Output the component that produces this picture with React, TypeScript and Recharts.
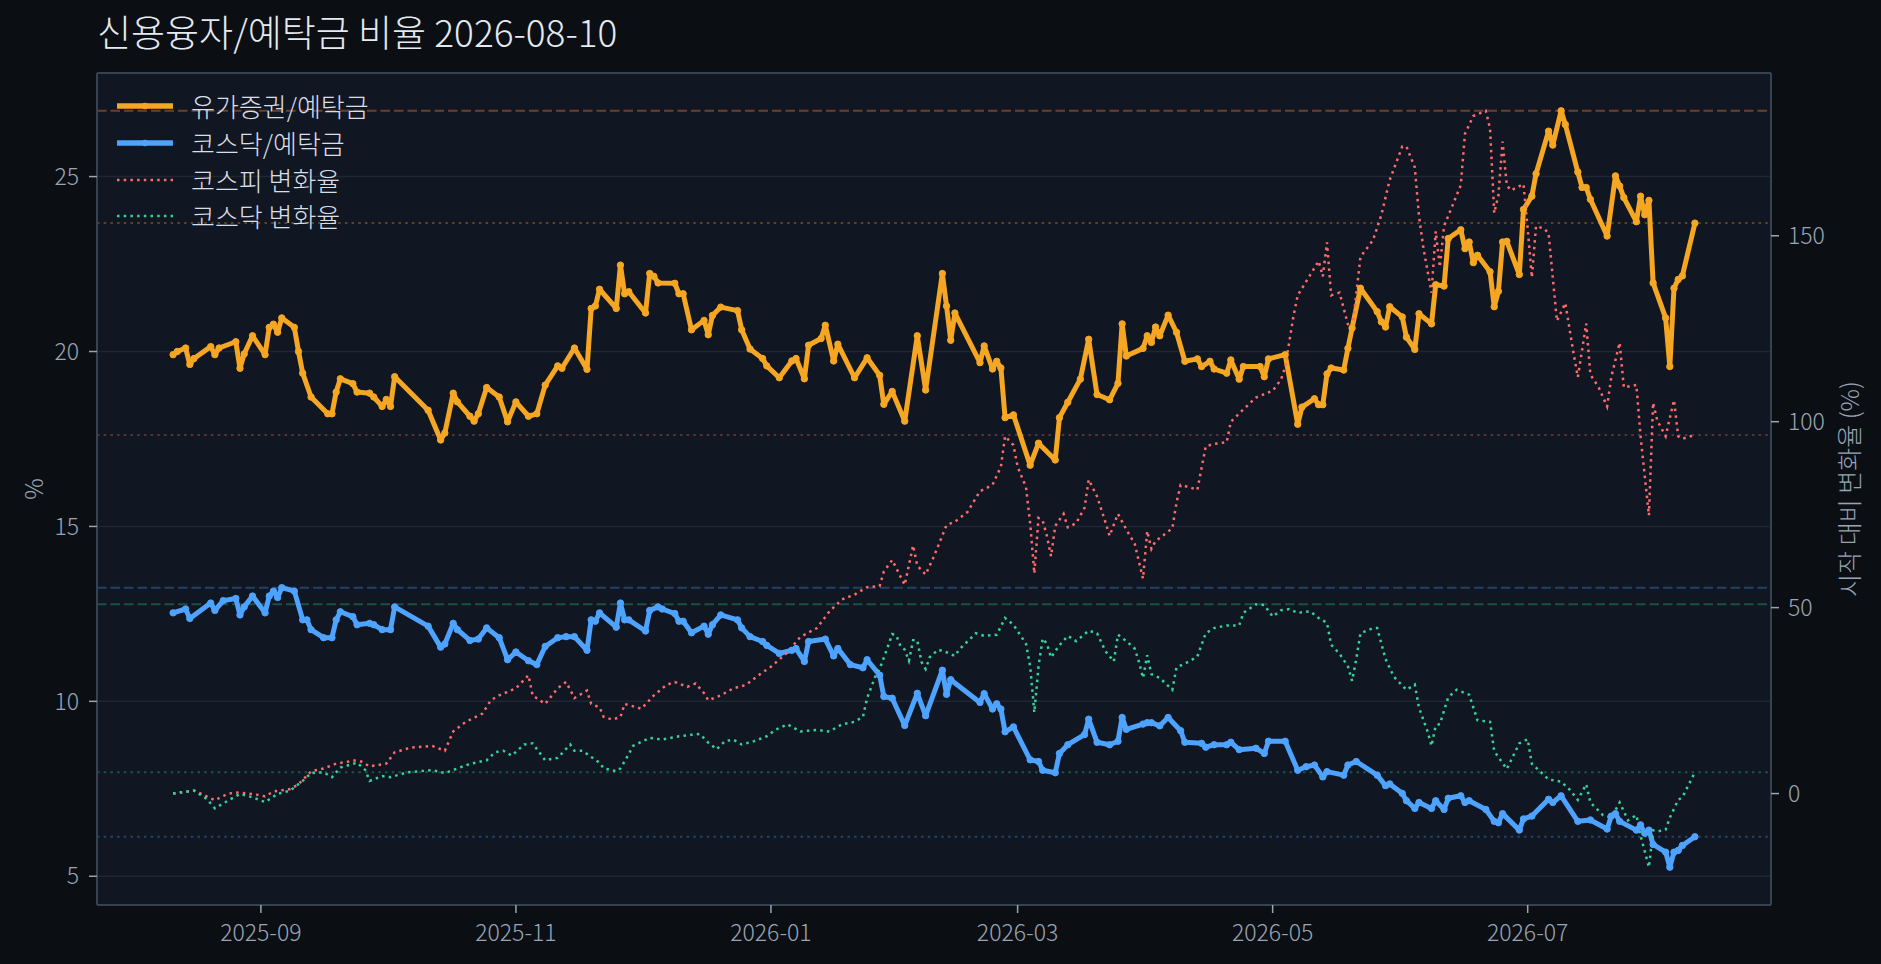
import { LineChart, Line, XAxis, YAxis, CartesianGrid, ReferenceLine, Legend } from "recharts";

const TITLE = "신용융자/예탁금 비율 2026-08-10";
const LEFT_LABEL = "%";
const RIGHT_LABEL = "시작 대비 변화율 (%)";

const xTickDates = ["2025-09-01", "2025-11-01", "2026-01-01", "2026-03-01", "2026-05-01", "2026-07-01"];
const leftTicks = [5, 10, 15, 20, 25];
const rightTicks = [0, 50, 100, 150];

// 유가증권/예탁금 (%)
const kospiRatioDates = [
  "2025-08-11", "2025-08-12", "2025-08-14", "2025-08-15", "2025-08-16", "2025-08-20", "2025-08-21", "2025-08-22", "2025-08-26", "2025-08-27", "2025-08-28", "2025-08-30",
  "2025-09-02", "2025-09-03", "2025-09-04", "2025-09-05", "2025-09-06", "2025-09-09", "2025-09-10", "2025-09-11", "2025-09-13", "2025-09-17", "2025-09-18", "2025-09-19", "2025-09-20", "2025-09-23", "2025-09-24", "2025-09-27", "2025-09-28", "2025-09-30",
  "2025-10-01", "2025-10-02", "2025-10-03", "2025-10-11", "2025-10-14", "2025-10-15", "2025-10-17", "2025-10-18", "2025-10-21", "2025-10-22", "2025-10-23", "2025-10-25", "2025-10-28", "2025-10-30",
  "2025-11-01", "2025-11-04", "2025-11-06", "2025-11-08", "2025-11-11", "2025-11-12", "2025-11-15", "2025-11-18", "2025-11-19", "2025-11-20", "2025-11-21", "2025-11-25", "2025-11-26", "2025-11-27", "2025-11-28",
  "2025-12-02", "2025-12-03", "2025-12-04", "2025-12-05", "2025-12-09", "2025-12-10", "2025-12-11", "2025-12-13", "2025-12-16", "2025-12-17", "2025-12-18", "2025-12-20", "2025-12-24", "2025-12-25", "2025-12-27", "2025-12-30", "2025-12-31",
  "2026-01-03", "2026-01-06", "2026-01-07", "2026-01-09", "2026-01-10", "2026-01-13", "2026-01-14", "2026-01-16", "2026-01-17", "2026-01-21", "2026-01-24", "2026-01-27", "2026-01-28", "2026-01-30",
  "2026-02-02", "2026-02-05", "2026-02-07", "2026-02-11", "2026-02-12", "2026-02-13", "2026-02-14", "2026-02-20", "2026-02-21", "2026-02-23", "2026-02-24", "2026-02-25", "2026-02-26", "2026-02-28",
  "2026-03-04", "2026-03-06", "2026-03-10", "2026-03-11", "2026-03-13", "2026-03-16", "2026-03-18", "2026-03-20", "2026-03-23", "2026-03-25", "2026-03-26", "2026-03-27", "2026-03-31",
  "2026-04-01", "2026-04-02", "2026-04-03", "2026-04-04", "2026-04-06", "2026-04-08", "2026-04-10", "2026-04-13", "2026-04-14", "2026-04-16", "2026-04-17", "2026-04-20", "2026-04-21", "2026-04-23", "2026-04-24", "2026-04-28", "2026-04-29", "2026-04-30",
  "2026-05-04", "2026-05-07", "2026-05-08", "2026-05-11", "2026-05-12", "2026-05-13", "2026-05-14", "2026-05-15", "2026-05-18", "2026-05-19", "2026-05-20", "2026-05-22", "2026-05-26", "2026-05-27", "2026-05-28", "2026-05-29",
  "2026-06-01", "2026-06-02", "2026-06-04", "2026-06-05", "2026-06-08", "2026-06-09", "2026-06-11", "2026-06-12", "2026-06-15", "2026-06-16", "2026-06-17", "2026-06-18", "2026-06-19", "2026-06-22", "2026-06-23", "2026-06-24", "2026-06-25", "2026-06-26", "2026-06-29", "2026-06-30",
  "2026-07-02", "2026-07-03", "2026-07-06", "2026-07-07", "2026-07-09", "2026-07-10", "2026-07-13", "2026-07-14", "2026-07-15", "2026-07-16", "2026-07-20", "2026-07-22", "2026-07-23", "2026-07-24", "2026-07-27", "2026-07-28", "2026-07-29", "2026-07-30", "2026-07-31",
  "2026-08-03", "2026-08-04", "2026-08-05", "2026-08-06", "2026-08-07", "2026-08-10",
];
const kospiRatioValues = [
  19.91, 20.0, 20.1, 19.63, 19.8, 20.14, 19.91, 20.1, 20.28, 19.52, 19.93, 20.45,
  19.91, 20.69, 20.78, 20.55, 20.96, 20.69, 20.0, 19.38, 18.7, 18.22, 18.22, 18.84, 19.22, 19.08, 18.84, 18.81, 18.7, 18.43,
  18.63, 18.43, 19.28, 18.32, 17.47, 17.67, 18.81, 18.56, 18.15, 18.01, 18.22, 18.97, 18.7, 17.99,
  18.56, 18.15, 18.22, 19.04, 19.59, 19.52, 20.1, 19.49, 21.23, 21.3, 21.78, 21.23, 22.47, 21.65, 21.71,
  21.1, 22.23, 22.15, 21.96, 21.95, 21.65, 21.65, 20.62, 20.89, 20.48, 21.03, 21.27, 21.17, 20.62, 20.07, 19.8, 19.59,
  19.25, 19.73, 19.8, 19.22, 20.18, 20.37, 20.75, 19.73, 20.21, 19.25, 19.82, 19.32, 18.49, 18.86,
  18.01, 20.45, 18.9, 22.23, 21.3, 20.32, 21.1, 19.68, 20.16, 19.5, 19.72, 19.53, 18.11, 18.19,
  16.75, 17.38, 16.9, 18.11, 18.55, 19.21, 20.35, 18.77, 18.62, 19.09, 20.79, 19.87, 20.09,
  20.45, 20.26, 20.7, 20.45, 21.04, 20.55, 19.72, 19.79, 19.57, 19.72, 19.5, 19.38, 19.76, 19.21, 19.57, 19.57, 19.28, 19.79,
  19.91, 17.92, 18.41, 18.65, 18.48, 18.48, 19.36, 19.53, 19.47, 20.09, 20.67, 21.81, 21.14, 20.85, 20.7, 21.28,
  20.99, 20.41, 20.06, 21.08, 20.79, 21.91, 21.87, 23.23, 23.48, 22.94, 23.13, 22.54, 22.75, 22.28, 21.28, 21.72, 23.13, 23.15, 22.2, 24.06,
  24.44, 25.08, 26.3, 25.9, 26.88, 26.49, 25.13, 24.69, 24.69, 24.35, 23.3, 25.02, 24.73, 24.4, 23.71, 24.44, 23.91, 24.32, 21.96,
  20.96, 19.57, 21.81, 22.06, 22.16, 23.67,
];

// 코스닥/예탁금 (%)
const kosdaqRatioDates = [
  "2025-08-11", "2025-08-14", "2025-08-15", "2025-08-20", "2025-08-21", "2025-08-23", "2025-08-26", "2025-08-27", "2025-08-28", "2025-08-30",
  "2025-09-02", "2025-09-03", "2025-09-04", "2025-09-05", "2025-09-06", "2025-09-09", "2025-09-11", "2025-09-12", "2025-09-13", "2025-09-16", "2025-09-18", "2025-09-19", "2025-09-20", "2025-09-23", "2025-09-24", "2025-09-27", "2025-09-28", "2025-09-30",
  "2025-10-02", "2025-10-03", "2025-10-11", "2025-10-14", "2025-10-15", "2025-10-17", "2025-10-18", "2025-10-21", "2025-10-23", "2025-10-25", "2025-10-28", "2025-10-30",
  "2025-11-01", "2025-11-04", "2025-11-06", "2025-11-08", "2025-11-11", "2025-11-13", "2025-11-15", "2025-11-18", "2025-11-19", "2025-11-20", "2025-11-21", "2025-11-25", "2025-11-26", "2025-11-27", "2025-11-28",
  "2025-12-02", "2025-12-03", "2025-12-05", "2025-12-06", "2025-12-09", "2025-12-10", "2025-12-11", "2025-12-13", "2025-12-16", "2025-12-17", "2025-12-18", "2025-12-20", "2025-12-24", "2025-12-25", "2025-12-27", "2025-12-30", "2025-12-31",
  "2026-01-03", "2026-01-06", "2026-01-07", "2026-01-09", "2026-01-10", "2026-01-14", "2026-01-16", "2026-01-17", "2026-01-20", "2026-01-23", "2026-01-24", "2026-01-27", "2026-01-28", "2026-01-30",
  "2026-02-02", "2026-02-05", "2026-02-07", "2026-02-11", "2026-02-12", "2026-02-13", "2026-02-20", "2026-02-21", "2026-02-23", "2026-02-24", "2026-02-25", "2026-02-26", "2026-02-28",
  "2026-03-04", "2026-03-06", "2026-03-07", "2026-03-10", "2026-03-11", "2026-03-13", "2026-03-17", "2026-03-18", "2026-03-20", "2026-03-23", "2026-03-25", "2026-03-26", "2026-03-27", "2026-03-31",
  "2026-04-01", "2026-04-02", "2026-04-04", "2026-04-06", "2026-04-09", "2026-04-10", "2026-04-14", "2026-04-15", "2026-04-17", "2026-04-20", "2026-04-21", "2026-04-23", "2026-04-27", "2026-04-29", "2026-04-30",
  "2026-05-04", "2026-05-07", "2026-05-09", "2026-05-11", "2026-05-13", "2026-05-14", "2026-05-18", "2026-05-19", "2026-05-21", "2026-05-26", "2026-05-28", "2026-05-29",
  "2026-06-01", "2026-06-02", "2026-06-04", "2026-06-05", "2026-06-08", "2026-06-09", "2026-06-11", "2026-06-12", "2026-06-15", "2026-06-16", "2026-06-17", "2026-06-21", "2026-06-23", "2026-06-24", "2026-06-25", "2026-06-29", "2026-06-30",
  "2026-07-02", "2026-07-06", "2026-07-07", "2026-07-09", "2026-07-13", "2026-07-16", "2026-07-20", "2026-07-21", "2026-07-22", "2026-07-23", "2026-07-27", "2026-07-28", "2026-07-29", "2026-07-30", "2026-07-31",
  "2026-08-03", "2026-08-04", "2026-08-05", "2026-08-06", "2026-08-07", "2026-08-10",
];
const kosdaqRatioValues = [
  12.53, 12.64, 12.37, 12.81, 12.6, 12.88, 12.94, 12.47, 12.7, 13.01,
  12.53, 13.01, 13.15, 12.97, 13.25, 13.15, 12.33, 12.33, 12.05, 11.82, 11.82, 12.33, 12.56, 12.42, 12.19, 12.23, 12.19, 12.05,
  12.05, 12.7, 12.15, 11.55, 11.64, 12.23, 12.05, 11.74, 11.78, 12.1, 11.82, 11.19,
  11.41, 11.16, 11.05, 11.57, 11.82, 11.85, 11.85, 11.46, 12.33, 12.29, 12.53, 12.12, 12.81, 12.33, 12.33,
  12.01, 12.6, 12.7, 12.64, 12.51, 12.29, 12.29, 11.96, 12.15, 11.92, 12.19, 12.47, 12.33, 12.1, 11.85, 11.71, 11.6,
  11.37, 11.46, 11.51, 11.14, 11.71, 11.78, 11.3, 11.51, 11.05, 10.96, 11.19, 10.75, 10.14, 10.09,
  9.31, 10.23, 9.59, 10.89, 10.2, 10.62, 9.97, 10.22, 9.78, 9.93, 9.78, 9.13, 9.27,
  8.33, 8.28, 8.03, 7.96, 8.51, 8.76, 9.05, 9.49, 8.83, 8.76, 8.86, 9.54, 9.2, 9.35,
  9.39, 9.39, 9.3, 9.54, 9.16, 8.83, 8.8, 8.69, 8.76, 8.76, 8.83, 8.62, 8.66, 8.51, 8.86,
  8.86, 8.03, 8.13, 8.18, 7.84, 7.99, 7.89, 8.18, 8.28, 7.89, 7.59, 7.64,
  7.37, 7.16, 6.94, 7.11, 6.94, 7.16, 6.91, 7.23, 7.3, 7.11, 7.16, 6.91, 6.57, 6.53, 6.79, 6.32, 6.64,
  6.72, 7.2, 7.11, 7.3, 6.57, 6.61, 6.35, 6.72, 6.79, 6.57, 6.32, 6.47, 6.23, 6.32, 5.91,
  5.69, 5.26, 5.69, 5.74, 5.88, 6.13,
];

// 코스피 변화율 (%)
const kospiChangeDates = [
  "2025-08-11", "2025-08-16", "2025-08-19", "2025-08-21", "2025-08-24", "2025-08-26", "2025-08-30",
  "2025-09-02", "2025-09-04", "2025-09-08", "2025-09-10", "2025-09-13", "2025-09-16", "2025-09-19", "2025-09-22", "2025-09-23", "2025-09-25", "2025-09-27",
  "2025-10-01", "2025-10-03", "2025-10-07", "2025-10-12", "2025-10-15", "2025-10-17", "2025-10-20", "2025-10-24", "2025-10-26", "2025-10-28",
  "2025-11-01", "2025-11-04", "2025-11-05", "2025-11-08", "2025-11-11", "2025-11-13", "2025-11-15", "2025-11-18", "2025-11-19", "2025-11-21", "2025-11-22", "2025-11-24", "2025-11-26", "2025-11-27", "2025-11-28",
  "2025-12-01", "2025-12-04", "2025-12-07", "2025-12-09", "2025-12-12", "2025-12-14", "2025-12-16", "2025-12-17", "2025-12-20", "2025-12-23", "2025-12-26", "2025-12-29",
  "2026-01-01", "2026-01-05", "2026-01-08", "2026-01-12", "2026-01-15", "2026-01-18", "2026-01-21", "2026-01-24", "2026-01-27", "2026-01-28", "2026-01-30",
  "2026-02-02", "2026-02-04", "2026-02-05", "2026-02-07", "2026-02-09", "2026-02-12", "2026-02-14", "2026-02-17", "2026-02-20", "2026-02-23", "2026-02-25", "2026-02-26", "2026-02-28",
  "2026-03-01", "2026-03-03", "2026-03-04", "2026-03-05", "2026-03-06", "2026-03-07", "2026-03-08", "2026-03-09", "2026-03-10", "2026-03-12", "2026-03-13", "2026-03-15", "2026-03-17", "2026-03-18", "2026-03-20", "2026-03-22", "2026-03-23", "2026-03-25", "2026-03-27", "2026-03-29", "2026-03-30", "2026-03-31",
  "2026-04-01", "2026-04-02", "2026-04-03", "2026-04-07", "2026-04-08", "2026-04-09", "2026-04-11", "2026-04-13", "2026-04-15", "2026-04-17", "2026-04-20", "2026-04-21", "2026-04-24", "2026-04-27",
  "2026-05-01", "2026-05-03", "2026-05-04", "2026-05-06", "2026-05-07", "2026-05-10", "2026-05-12", "2026-05-13", "2026-05-14", "2026-05-15", "2026-05-17", "2026-05-19", "2026-05-20", "2026-05-22", "2026-05-25", "2026-05-27", "2026-05-29",
  "2026-06-01", "2026-06-02", "2026-06-04", "2026-06-05", "2026-06-06", "2026-06-08", "2026-06-09", "2026-06-10", "2026-06-11", "2026-06-13", "2026-06-15", "2026-06-16", "2026-06-18", "2026-06-21", "2026-06-22", "2026-06-23", "2026-06-24", "2026-06-25", "2026-06-26", "2026-06-27", "2026-06-30",
  "2026-07-01", "2026-07-02", "2026-07-03", "2026-07-05", "2026-07-06", "2026-07-08", "2026-07-10", "2026-07-12", "2026-07-13", "2026-07-15", "2026-07-16", "2026-07-18", "2026-07-20", "2026-07-21", "2026-07-23", "2026-07-24", "2026-07-27", "2026-07-28", "2026-07-30", "2026-07-31",
  "2026-08-01", "2026-08-03", "2026-08-05", "2026-08-06", "2026-08-07", "2026-08-09", "2026-08-10",
];
const kospiChangeValues = [
  0, 0.8, -0.75, -1.8, -0.1, 0.3, -0.1,
  -0.75, 0.55, 1.2, 2.5, 5.97, 6.75, 8.04, 8.6, 8.95, 8.6, 7.3,
  8.04, 11.1, 12.4, 12.8, 11.5, 16.7, 19.3, 21.5, 25.1, 26.4,
  28.3, 31.8, 26.4, 24.1, 28.3, 30.0, 25.7, 27.7, 24.1, 23.2, 20.6, 19.9, 20.6, 24.1, 23.8,
  22.8, 26.4, 29.2, 30.0, 28.7, 29.6, 27.0, 25.1, 26.4, 28.3, 29.2, 31.8,
  34.1, 38.0, 42.1, 44.5, 49.0, 52.2, 53.5, 55.5, 55.8, 59.7, 62.8,
  56.1, 66.7, 61.3, 58.9, 63.8, 72.2, 73.1, 75.7, 81.3, 83.0, 87.9, 96.1, 93.7,
  87.9, 82.4, 72.7, 59.2, 74.1, 73.4, 69.3, 63.8, 72.0, 75.2, 71.6, 72.7, 76.8, 84.4, 79.9, 73.0, 69.3, 75.2, 71.0, 67.2, 62.4, 57.8,
  70.6, 65.8, 67.9, 71.3, 78.2, 83.0, 82.4, 81.7, 93.4, 94.0, 94.5, 100.0, 103.3, 106.5,
  108.3, 111.3, 114.7, 128.5, 134.0, 139.5, 143.2, 139.1, 148.2, 134.0, 134.7, 126.2, 124.4, 144.3, 148.8, 155.6, 165.0,
  174.0, 174.0, 168.4, 155.4, 147.1, 134.7, 151.2, 141.6, 152.6, 158.1, 163.6, 177.4, 182.2, 183.6, 178.8, 156.1, 160.9, 175.3, 163.6, 162.2, 163.9,
  151.9, 138.8, 152.6, 151.9, 150.6, 127.1, 131.9, 118.2, 112.0, 126.4, 112.7, 109.2, 104.1, 112.0, 121.2, 109.2, 109.9, 96.1, 74.8, 105.1,
  100.3, 96.1, 105.8, 96.1, 95.4, 96.1, 96.4,
];

// 코스닥 변화율 (%)
const kosdaqChangeDates = [
  "2025-08-11", "2025-08-16", "2025-08-19", "2025-08-21", "2025-08-24", "2025-08-27", "2025-08-30",
  "2025-09-02", "2025-09-05", "2025-09-08", "2025-09-11", "2025-09-13", "2025-09-16", "2025-09-18", "2025-09-20", "2025-09-24", "2025-09-26", "2025-09-27", "2025-09-30",
  "2025-10-02", "2025-10-06", "2025-10-12", "2025-10-15", "2025-10-18", "2025-10-21", "2025-10-25", "2025-10-27", "2025-10-29", "2025-10-31",
  "2025-11-03", "2025-11-05", "2025-11-08", "2025-11-11", "2025-11-14", "2025-11-15", "2025-11-17", "2025-11-19", "2025-11-21", "2025-11-22", "2025-11-25", "2025-11-26", "2025-11-28", "2025-11-29",
  "2025-12-03", "2025-12-06", "2025-12-10", "2025-12-13", "2025-12-15", "2025-12-17", "2025-12-19", "2025-12-21", "2025-12-23", "2025-12-25", "2025-12-28", "2025-12-31",
  "2026-01-02", "2026-01-05", "2026-01-08", "2026-01-12", "2026-01-15", "2026-01-18", "2026-01-21", "2026-01-23", "2026-01-24", "2026-01-26", "2026-01-27", "2026-01-29", "2026-01-30", "2026-01-31",
  "2026-02-01", "2026-02-02", "2026-02-03", "2026-02-04", "2026-02-05", "2026-02-06", "2026-02-07", "2026-02-08", "2026-02-10", "2026-02-12", "2026-02-14", "2026-02-15", "2026-02-19", "2026-02-21", "2026-02-24", "2026-02-26", "2026-02-28",
  "2026-03-03", "2026-03-04", "2026-03-05", "2026-03-06", "2026-03-07", "2026-03-08", "2026-03-09", "2026-03-11", "2026-03-13", "2026-03-15", "2026-03-18", "2026-03-20", "2026-03-22", "2026-03-24", "2026-03-25", "2026-03-27", "2026-03-29", "2026-03-30", "2026-03-31",
  "2026-04-01", "2026-04-02", "2026-04-04", "2026-04-07", "2026-04-08", "2026-04-11", "2026-04-13", "2026-04-15", "2026-04-17", "2026-04-20", "2026-04-23", "2026-04-24", "2026-04-27", "2026-04-29",
  "2026-05-01", "2026-05-03", "2026-05-05", "2026-05-07", "2026-05-10", "2026-05-12", "2026-05-14", "2026-05-15", "2026-05-17", "2026-05-19", "2026-05-20", "2026-05-21", "2026-05-22", "2026-05-25", "2026-05-26", "2026-05-28", "2026-05-30",
  "2026-06-02", "2026-06-04", "2026-06-05", "2026-06-07", "2026-06-08", "2026-06-09", "2026-06-10", "2026-06-12", "2026-06-14", "2026-06-17", "2026-06-19", "2026-06-22", "2026-06-23", "2026-06-26", "2026-06-29",
  "2026-07-01", "2026-07-02", "2026-07-06", "2026-07-09", "2026-07-11", "2026-07-13", "2026-07-15", "2026-07-16", "2026-07-19", "2026-07-21", "2026-07-23", "2026-07-25", "2026-07-27", "2026-07-28", "2026-07-30", "2026-07-31",
  "2026-08-01", "2026-08-03", "2026-08-04", "2026-08-06", "2026-08-07", "2026-08-10",
];
const kosdaqChangeValues = [
  0, 0.8, -1.4, -3.97, -2.0, -0.1, -1.0,
  -2.3, -0.1, 0.8, 3.4, 5.5, 5.7, 4.4, 7.0, 8.3, 6.3, 3.4, 4.7,
  4.4, 5.7, 6.3, 5.5, 6.75, 8.0, 8.95, 11.1, 11.5, 10.2,
  13.2, 13.5, 8.95, 9.6, 13.2, 11.5, 11.5, 9.85, 8.3, 6.75, 6.0, 6.75, 10.6, 12.8,
  15.0, 14.5, 15.4, 15.8, 16.0, 13.7, 11.9, 14.1, 14.5, 13.2, 14.1, 15.4,
  17.1, 18.6, 16.7, 17.1, 16.7, 18.6, 19.3, 20.6, 25.7, 31.6, 33.5, 39.6, 42.9, 42.5,
  39.6, 38.7, 35.7, 41.2, 41.2, 35.4, 33.5, 36.7, 38.7, 38.0, 37.0, 38.7, 43.1, 42.4, 42.7, 47.2, 45.4,
  40.3, 34.2, 21.8, 34.2, 41.7, 40.3, 36.6, 39.9, 42.4, 41.0, 43.8, 43.1, 38.3, 35.5, 42.7, 41.0, 39.0, 35.5, 31.1,
  37.2, 32.1, 31.1, 27.9, 33.9, 35.5, 36.9, 43.1, 44.5, 45.2, 45.2, 48.6, 50.9, 50.7,
  47.6, 49.3, 49.6, 48.6, 49.0, 47.2, 45.9, 40.0, 37.6, 34.2, 30.3, 36.2, 43.1, 44.5, 44.5, 36.2, 31.4,
  27.9, 29.3, 23.1, 16.9, 12.8, 18.3, 18.7, 25.9, 27.9, 26.6, 19.7, 19.3, 11.4, 6.6, 13.5,
  14.6, 8.0, 3.8, 3.2, 1.1, -1.7, 2.5, -2.4, -5.8, -6.5, -2.4, -7.2, -5.8, -11.3, -19.8, -9.9,
  -10.2, -9.7, -6.5, -1.7, -1.0, 5.7,
];

const ORANGE = "#F5A623";
const BLUE = "#4DA3FF";
const RED = "#FF6B6B";
const GREEN = "#34D399";
const PAGE_BG = "#0B0F14";
const PLOT_BG = "#111722";
const GRID = "#1E2633";
const SPINE = "#364152";
const TICK = "#9AA5B4";
const FONT = "'Noto Sans CJK KR', 'Noto Sans', sans-serif";
const DOTS = "2.5 4.2";

const toPoints = (dates: string[], values: number[]) =>
  dates.map((d, i) => ({ t: Date.parse(d), v: values[i] }));

const padded = (vals: number[]): [number, number] => {
  const lo = Math.min(...vals);
  const hi = Math.max(...vals);
  const m = (hi - lo) * 0.05;
  return [lo - m, hi + m];
};

const series = [
  { name: "유가증권/예탁금", color: ORANGE, axis: "left", dotted: false, maxAlpha: 0.24, data: toPoints(kospiRatioDates, kospiRatioValues) },
  { name: "코스닥/예탁금", color: BLUE, axis: "left", dotted: false, maxAlpha: 0.3, data: toPoints(kosdaqRatioDates, kosdaqRatioValues) },
  { name: "코스피 변화율", color: RED, axis: "right", dotted: true, maxAlpha: 0.18, data: toPoints(kospiChangeDates, kospiChangeValues) },
  { name: "코스닥 변화율", color: GREEN, axis: "right", dotted: true, maxAlpha: 0.3, data: toPoints(kosdaqChangeDates, kosdaqChangeValues) },
];

const allTimes = series.flatMap((s) => s.data.map((p) => p.t));
const xDomain = padded(allTimes);
const leftDomain = padded([...kospiRatioValues, ...kosdaqRatioValues]);
const rightDomain = padded([...kospiChangeValues, ...kosdaqChangeValues]);
const xTicks = xTickDates.map((d) => Date.parse(d));
const fmtMonth = (t: number) => new Date(t).toISOString().slice(0, 7);

// horizontal segment drawn left to right, so dash patterns line up on both axes
const hSeg = (y: number) => [
  { x: xDomain[0], y },
  { x: xDomain[1], y },
];

const tickStyle = { fill: TICK, fontSize: 23, fontFamily: FONT, fontWeight: 300 };

const LegendBox = () => (
  <div style={{ fontFamily: FONT }}>
    {series.map((s) => (
      <div key={s.name} style={{ display: "flex", alignItems: "center", height: 36.7 }}>
        <svg width={56} height={14} style={{ display: "block" }}>
          {s.dotted ? (
            <line x1={0} y1={7} x2={56} y2={7} stroke={s.color} strokeWidth={2.5} strokeDasharray={DOTS} />
          ) : (
            <g>
              <line x1={0} y1={7} x2={56} y2={7} stroke={s.color} strokeWidth={5.5} />
              <circle cx={28} cy={7} r={3.2} fill={s.color} />
            </g>
          )}
        </svg>
        <span style={{ marginLeft: 18, color: "#D9DFE7", fontSize: 26, fontWeight: 300, lineHeight: "36px" }}>{s.name}</span>
      </div>
    ))}
  </div>
);

export default function App() {
  return (
    <div style={{ position: "absolute", left: 0, top: 0, width: 1881, height: 964, background: PAGE_BG, fontFamily: FONT, overflow: "hidden" }}>
      <div style={{ position: "absolute", left: 97, top: 13, color: "#E5E9F0", fontSize: 37, fontWeight: 300, lineHeight: "37px", whiteSpace: "nowrap" }}>
        {TITLE}
      </div>
      <div style={{ position: "absolute", left: 32, top: 489, color: TICK, fontSize: 24, fontWeight: 300, transform: "translate(-50%, -50%) rotate(-90deg)", whiteSpace: "nowrap" }}>
        {LEFT_LABEL}
      </div>
      <div style={{ position: "absolute", left: 1848, top: 489, color: TICK, fontSize: 25, fontWeight: 300, transform: "translate(-50%, -50%) rotate(-90deg)", whiteSpace: "nowrap" }}>
        {RIGHT_LABEL}
      </div>
      <LineChart width={1881} height={964} margin={{ top: 73, right: 0, bottom: 0, left: 0 }}>
        <CartesianGrid yAxisId="left" vertical={false} stroke={GRID} strokeWidth={1.5} fill={PLOT_BG} fillOpacity={1} />
        <XAxis
          dataKey="t"
          type="number"
          domain={xDomain}
          ticks={xTicks}
          tickFormatter={fmtMonth}
          allowDataOverflow
          height={59}
          tickSize={8}
          tickMargin={12}
          tick={tickStyle}
          tickLine={{ stroke: TICK, strokeWidth: 1.5 }}
          axisLine={{ stroke: SPINE, strokeWidth: 2 }}
        />
        <YAxis
          yAxisId="left"
          domain={leftDomain}
          ticks={leftTicks}
          interval={0}
          allowDataOverflow
          width={97}
          tickSize={8}
          tickMargin={10}
          tick={tickStyle}
          tickLine={{ stroke: TICK, strokeWidth: 1.5 }}
          axisLine={{ stroke: SPINE, strokeWidth: 2 }}
        />
        <YAxis
          yAxisId="right"
          orientation="right"
          domain={rightDomain}
          ticks={rightTicks}
          interval={0}
          allowDataOverflow
          width={110}
          tickSize={8}
          tickMargin={9}
          tick={tickStyle}
          tickLine={{ stroke: TICK, strokeWidth: 1.5 }}
          axisLine={{ stroke: SPINE, strokeWidth: 2 }}
        />
        <ReferenceLine yAxisId="left" y={leftDomain[1]} stroke={SPINE} strokeWidth={2} />

        {series.map((s) => {
          const vals = s.data.map((p) => p.v);
          return [
            <ReferenceLine
              key={s.name + "-max"}
              yAxisId={s.axis}
              segment={hSeg(Math.max(...vals))}
              stroke={s.color}
              strokeOpacity={s.maxAlpha}
              strokeWidth={2}
              strokeDasharray="9.5 4"
            />,
            <ReferenceLine
              key={s.name + "-last"}
              yAxisId={s.axis}
              segment={hSeg(vals[vals.length - 1])}
              stroke={s.color}
              strokeOpacity={0.32}
              strokeWidth={2}
              strokeDasharray={DOTS}
            />,
          ];
        })}

        {series.map((s) =>
          s.dotted ? (
            <Line
              key={s.name}
              data={s.data}
              dataKey="v"
              name={s.name}
              yAxisId={s.axis}
              type="linear"
              stroke={s.color}
              strokeWidth={2.5}
              strokeDasharray={DOTS}
              dot={false}
              isAnimationActive={false}
            />
          ) : (
            <Line
              key={s.name}
              data={s.data}
              dataKey="v"
              name={s.name}
              yAxisId={s.axis}
              type="linear"
              stroke={s.color}
              strokeWidth={5}
              strokeLinejoin="round"
              dot={{ r: 3.2, fill: s.color, stroke: s.color, strokeWidth: 1 }}
              isAnimationActive={false}
            />
          )
        )}

        <Legend
          layout="vertical"
          align="center"
          verticalAlign="middle"
          wrapperStyle={{ left: 117, top: 88, width: "auto", height: "auto" }}
          content={LegendBox}
        />
      </LineChart>
    </div>
  );
}
